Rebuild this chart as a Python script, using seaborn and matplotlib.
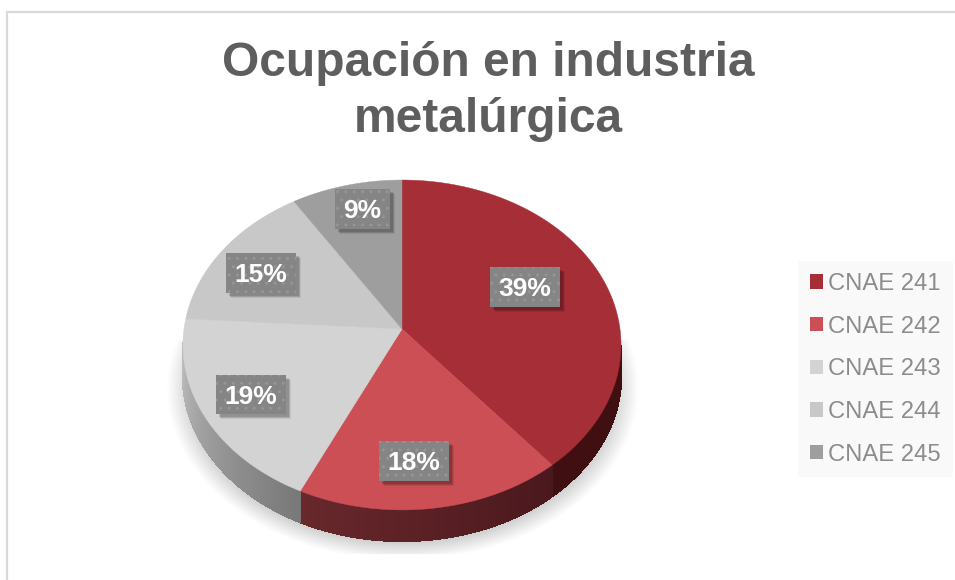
import numpy as np
import matplotlib
matplotlib.use("Agg")
import matplotlib.pyplot as plt
import matplotlib.colors as mcolors
from matplotlib.collections import PolyCollection
from matplotlib.patches import Patch, Rectangle
import seaborn as sns

categories = ["CNAE 241", "CNAE 242", "CNAE 243", "CNAE 244", "CNAE 245"]
values = [39, 18, 19, 15, 9]
title_lines = ["Ocupación en industria", "metalúrgica"]

top_colors = ["#a62e36", "#cc4f56", "#d3d3d3", "#c8c8c8", "#9e9e9e"]
wall_colors = [("#3f0f12", "#3f0f12"), ("#4a181d", "#68282c"), ("#787878", "#c4c4c4"),
               ("#c4c4c4", "#c4c4c4"), ("#9e9e9e", "#9e9e9e")]

# label boxes in pixels: left, top, width, height
label_boxes = [(490, 267, 70, 40), (379, 441, 70, 40), (216, 375, 70, 39),
               (226, 253, 70, 40), (335, 189, 55, 40)]

sns.set_theme(style="white")
plt.rcParams["font.family"] = ["Liberation Sans", "DejaVu Sans"]
plt.rcParams["hatch.linewidth"] = 1.0

# pie centre and tilt, in pixels
cx, cy = 402, 329
rx, ry, k = 218, 163.4, 0.0968
depth = 31


def project(theta):
    x = np.sin(theta)
    y = np.cos(theta)
    den = 1 + k * y
    return cx + rx * x / den, cy - ry * y / den


fig = plt.figure(figsize=(9.55, 5.8), dpi=100)
ax = fig.add_axes([0, 0, 1, 1])

# soft shadow under the pie
yy, xx = np.mgrid[0:580, 0:955]
d = ((xx - 402) / 236.0) ** 2 + ((yy - 388) / 172.0) ** 2
alpha = 0.45 * np.clip((1 - d) / 0.3, 0, 1) ** 1.1
alpha[(yy < 340) | (yy > 553)] = 0
shadow = np.zeros((580, 955, 4))
shadow[..., :3] = 0.35
shadow[..., 3] = alpha
ax.imshow(shadow, extent=(0, 955, 580, 0), aspect="auto", zorder=1)

edges = np.cumsum([0] + values) / sum(values) * 2 * np.pi

# side wall, only the front part shows
for i in range(len(values)):
    th = np.linspace(edges[i], edges[i + 1], 80)
    px, py = project(th)
    c0 = np.array(mcolors.to_rgb(wall_colors[i][0]))
    c1 = np.array(mcolors.to_rgb(wall_colors[i][1]))
    quads = []
    cols = []
    for j in range(len(th) - 1):
        if np.cos(th[j]) > -0.1:
            continue
        quads.append([(px[j], py[j]), (px[j + 1], py[j + 1]),
                      (px[j + 1], py[j + 1] + depth), (px[j], py[j] + depth)])
        cols.append(c0 + (c1 - c0) * j / (len(th) - 2))
    if quads:
        ax.add_collection(PolyCollection(quads, facecolors=cols, edgecolors=cols, linewidths=1.0,
                                         antialiaseds=False, zorder=2))

# top face
for i in range(len(values)):
    th = np.linspace(edges[i], edges[i + 1], 120)
    px, py = project(th)
    ax.fill(np.r_[cx, px], np.r_[cy, py], color=top_colors[i], lw=0.3, zorder=3)

# percentage labels
for i, (bx, by, bw, bh) in enumerate(label_boxes):
    for s in range(1, 6):
        ax.add_patch(Rectangle((bx + 2 + s * 0.6, by + 2 + s * 0.6), bw, bh, fc="black",
                               ec="none", alpha=0.07, zorder=4))
    ax.add_patch(Rectangle((bx, by), bw, bh, fc="#858585", ec="#959595", hatch="..",
                           lw=0, zorder=5))
    ax.text(bx + bw / 2, by + bh / 2 + 2, f"{values[i]}%", color="white", fontsize=19,
            fontweight="bold", ha="center", va="center", zorder=6)

ax.text(488, 64, title_lines[0], color="#5e5e5e", fontsize=34.5, fontweight="bold", ha="center",
        va="center", zorder=6)
ax.text(488, 120, title_lines[1], color="#5e5e5e", fontsize=34.5, fontweight="bold", ha="center",
        va="center", zorder=6)

# chart frame
ax.plot([7, 7, 955], [580, 12, 12], color="#d9d9d9", lw=1.6, zorder=1, solid_joinstyle="miter")

handles = [Patch(facecolor=c, edgecolor="none") for c in top_colors]
leg = ax.legend(handles, categories, loc="upper left", bbox_to_anchor=(798, 261),
                bbox_transform=ax.transData, fontsize=17.1, frameon=True, fancybox=False,
                facecolor="#f9f9f9", edgecolor="none", framealpha=1, labelcolor="#8c8c8c",
                handlelength=0.55, handleheight=0.55, handletextpad=0.21,
                labelspacing=0.87, borderpad=0.5, borderaxespad=0)

ax.set_xlim(0, 955)
ax.set_ylim(580, 0)
ax.axis("off")
fig.savefig("out.png", dpi=100, facecolor="white")
